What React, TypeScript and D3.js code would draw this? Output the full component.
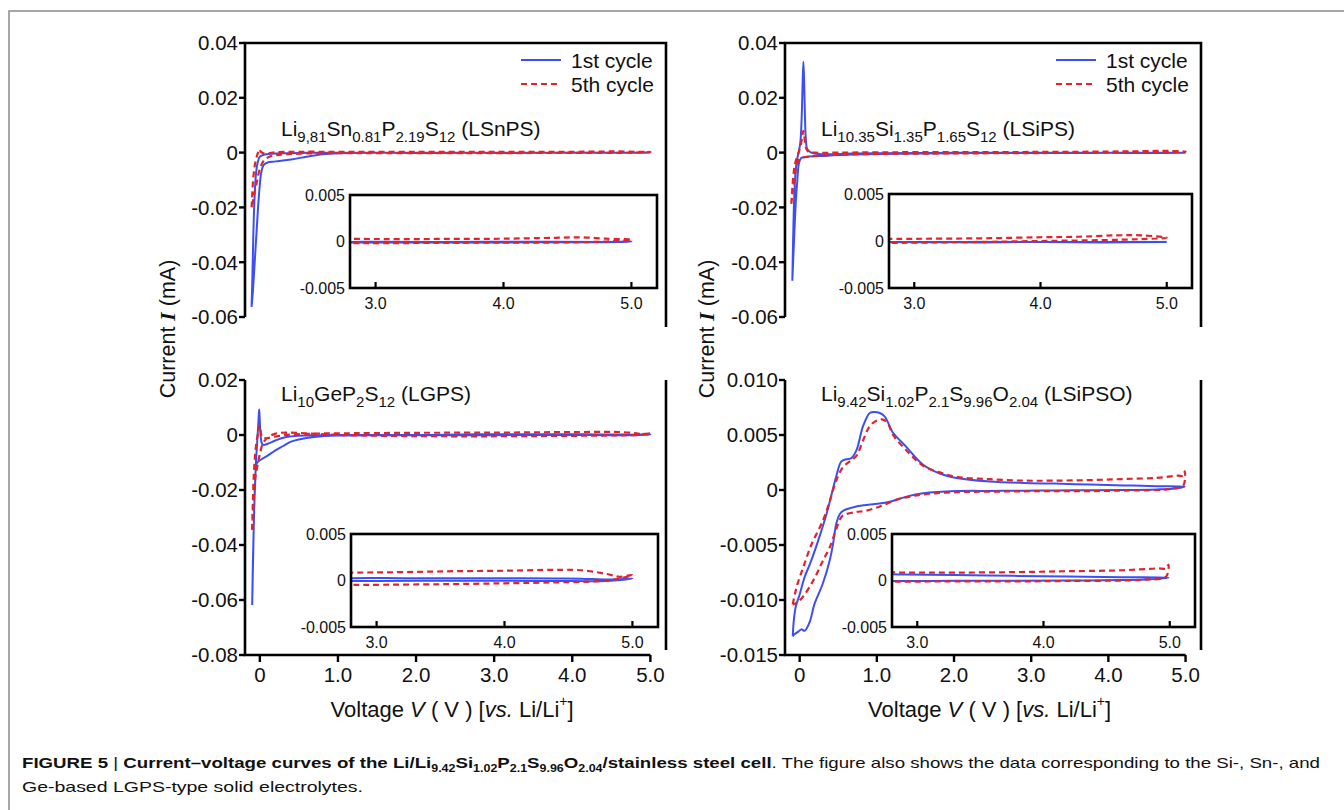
import React from "react";
import * as d3 from "d3";

type Pt = [number, number]; // [voltage V, current mA]
type Seg = { t: string; sub?: boolean; sup?: boolean; it?: boolean; bold?: boolean; serif?: boolean };

// ---------- data (each cycle traced as one loop: anodic sweep up, cathodic sweep back) ----------
const lsnps1st: Pt[] = [
  [-0.106, -0.0563], [-0.095, -0.045], [-0.085, -0.032], [-0.07, -0.018], [-0.05, -0.008], [-0.03, -0.004],
  [0.0, -0.0015], [0.05, -0.0008], [0.15, -0.0004], [0.3, -0.0002], [0.6, -0.0001], [1.0, -0.00005], [2.0, -0.0001],
  [2.8, -0.0001], [3.2, -0.00012], [3.6, -0.0001], [4.0, -0.0001], [4.5, -0.00008], [4.9, -0.00005], [5.0, 0.0],
  [4.8, -0.00005], [4.2, -0.00003], [3.5, -0.00005], [3.0, -0.00002], [2.8, -0.00005], [2.0, -0.0001], [1.0, -0.0002],
  [0.8, -0.0006], [0.6, -0.0015], [0.4, -0.0025], [0.2, -0.0032], [0.1, -0.0036], [0.05, -0.0045], [0.02, -0.007],
  [-0.01, -0.015], [-0.04, -0.028], [-0.07, -0.042], [-0.09, -0.051], [-0.106, -0.0563],
];
const lsnps5th: Pt[] = [
  [-0.105, -0.02], [-0.095, -0.014], [-0.08, -0.008], [-0.06, -0.004], [-0.035, -0.001], [-0.015, 0.0006],
  [-0.005, 0.0012], [0.01, 0.0004], [0.04, -0.0002], [0.1, -0.0003], [0.2, 0.0001], [0.5, 0.0003], [1.0, 0.0003],
  [2.0, 0.0003], [2.8, 0.00028], [3.2, 0.00026], [3.6, 0.00028], [4.0, 0.0003], [4.4, 0.0004], [4.6, 0.00045],
  [4.8, 0.0003], [5.0, 0.0002], [4.8, 0.0], [4.5, -0.0001], [4.0, -0.00012], [3.5, -0.00015], [3.0, -0.00018],
  [2.8, -0.00018], [2.0, -0.0002], [1.0, -0.0002], [0.5, -0.0004], [0.25, -0.0008], [0.12, -0.0015], [0.05, -0.003],
  [0.0, -0.006], [-0.04, -0.011], [-0.07, -0.015], [-0.09, -0.018], [-0.105, -0.02],
];

const lsips1st: Pt[] = [
  [-0.095, -0.0468], [-0.085, -0.032], [-0.07, -0.016], [-0.05, -0.006], [-0.03, -0.002], [-0.01, 0.0005],
  [0.01, 0.004], [0.025, 0.012], [0.038, 0.025], [0.048, 0.0332], [0.058, 0.026], [0.068, 0.014], [0.08, 0.005],
  [0.1, 0.0012], [0.15, 0.0], [0.3, -0.0006], [0.6, -0.0004], [1.0, -0.0002], [2.0, -0.0001], [2.8, -0.0001],
  [3.5, -0.0001], [4.0, -0.0001], [4.5, -0.0001], [5.0, -0.0001], [4.5, -0.00015], [4.0, -0.0001], [3.5, -0.00015],
  [3.0, -0.00012], [2.8, -0.00012], [2.0, -0.0002], [1.0, -0.0005], [0.6, -0.0008], [0.3, -0.0012], [0.1, -0.0015],
  [0.02, -0.002], [-0.01, -0.004], [-0.03, -0.01], [-0.05, -0.018], [-0.07, -0.03], [-0.085, -0.04], [-0.095, -0.0468],
];
const lsips5th: Pt[] = [
  [-0.108, -0.0187], [-0.095, -0.013], [-0.08, -0.008], [-0.06, -0.004], [-0.04, -0.002], [-0.02, -0.0005],
  [0.0, 0.0012], [0.02, 0.0035], [0.035, 0.0062], [0.048, 0.0079], [0.058, 0.0065], [0.07, 0.0035], [0.085, 0.0015],
  [0.11, 0.0004], [0.2, 0.0], [0.5, 0.0], [1.0, 0.0001], [2.0, 0.0002], [2.8, 0.00022], [3.2, 0.00025], [3.6, 0.0003],
  [4.0, 0.0004], [4.3, 0.00045], [4.6, 0.0006], [4.8, 0.0006], [5.0, 0.00035], [4.8, 0.0002], [4.5, 0.0001],
  [4.0, 0.0], [3.5, -0.0001], [3.0, -0.00018], [2.8, -0.0002], [2.0, -0.0003], [1.0, -0.0005], [0.5, -0.0008],
  [0.2, -0.0012], [0.08, -0.0016], [0.02, -0.002], [-0.02, -0.003], [-0.05, -0.006], [-0.08, -0.012],
  [-0.095, -0.0155], [-0.108, -0.0187],
];

const lgps1st: Pt[] = [
  [-0.098, -0.0618], [-0.09, -0.05], [-0.08, -0.036], [-0.065, -0.02], [-0.05, -0.01], [-0.035, -0.003],
  [-0.022, 0.003], [-0.012, 0.008], [-0.008, 0.0093], [-0.002, 0.006], [0.01, 0.0], [0.025, -0.003],
  [0.045, -0.0036], [0.1, -0.0032], [0.2, -0.002], [0.3, -0.001], [0.45, -0.0004], [0.7, -0.0001], [1.0, 0.0],
  [2.0, 0.0], [2.8, 0.00025], [3.2, 0.00025], [3.6, 0.00025], [4.0, 0.00025], [4.4, 0.00022], [4.6, 0.0002],
  [4.8, 0.0001], [5.0, 0.0002], [4.8, -0.00005], [4.4, -0.00005], [4.0, -0.00003], [3.5, -0.00003], [3.0, -0.00005],
  [2.8, -0.00005], [2.0, -0.0001], [1.0, -0.0002], [0.7, -0.0007], [0.5, -0.0016], [0.4, -0.0024], [0.3, -0.004],
  [0.2, -0.0056], [0.1, -0.0075], [0.0, -0.0092], [-0.04, -0.0103], [-0.06, -0.018], [-0.075, -0.03],
  [-0.088, -0.045], [-0.098, -0.0618],
];
const lgps5th: Pt[] = [
  [-0.1, -0.0345], [-0.09, -0.025], [-0.078, -0.015], [-0.06, -0.007], [-0.04, -0.002], [-0.02, 0.001],
  [-0.005, 0.0036], [0.01, 0.0015], [0.03, -0.0008], [0.08, -0.0012], [0.15, -0.0008], [0.25, -0.0003], [0.4, 0.0002],
  [0.7, 0.0005], [1.0, 0.0006], [2.0, 0.0008], [2.8, 0.00085], [3.2, 0.0009], [3.6, 0.001], [4.0, 0.00105],
  [4.4, 0.00115], [4.6, 0.0011], [4.8, 0.0007], [4.9, 0.0004], [5.0, 0.0006], [4.9, 0.0002], [4.7, -0.0001],
  [4.4, -0.0002], [4.0, -0.0003], [3.5, -0.0004], [3.0, -0.00046], [2.8, -0.00048], [2.0, -0.0004], [1.0, 0.0],
  [0.6, 0.0006], [0.35, 0.0009], [0.2, 0.0005], [0.1, -0.001], [0.04, -0.003], [0.0, -0.007], [-0.03, -0.011],
  [-0.06, -0.016], [-0.08, -0.024], [-0.1, -0.0345],
];

const lsipso1st: Pt[] = [
  [-0.09, -0.0133], [-0.075, -0.0118], [-0.05, -0.0106], [0.0, -0.0095], [0.065, -0.0079], [0.14, -0.0066],
  [0.216, -0.0051], [0.3, -0.0033], [0.367, -0.0017], [0.42, -0.0002], [0.476, 0.0013], [0.54, 0.0026], [0.605, 0.0028],
  [0.67, 0.0029], [0.735, 0.0036], [0.821, 0.0058], [0.908, 0.007], [0.97, 0.0071], [1.038, 0.007], [1.1, 0.0067],
  [1.14, 0.0062], [1.2, 0.0053], [1.384, 0.0039], [1.6, 0.0023], [1.816, 0.0015], [2.03, 0.0011], [2.46, 0.00078],
  [2.9, 0.00064], [3.3, 0.00058], [3.76, 0.0005], [4.2, 0.00042], [4.63, 0.00035], [4.99, 0.0003],
  [4.8, 0.0001], [4.63, 0.00005], [4.2, 0.0], [3.76, -0.00002], [3.3, -0.00004], [2.9, -0.00006], [2.46, -0.00008],
  [2.03, -0.0001], [1.6, -0.0003], [1.384, -0.0006], [1.167, -0.00106], [0.951, -0.0013], [0.735, -0.0015],
  [0.562, -0.0019], [0.519, -0.0022], [0.476, -0.003], [0.43, -0.005], [0.389, -0.0064], [0.3, -0.0085],
  [0.19, -0.0104], [0.13, -0.012], [0.065, -0.0128], [0.022, -0.01267], [-0.022, -0.0129], [-0.065, -0.0131],
  [-0.09, -0.0133],
];
const lsipso5th: Pt[] = [
  [-0.09, -0.0104], [-0.06, -0.0094], [-0.022, -0.0084], [0.043, -0.0071], [0.15, -0.005], [0.3, -0.0028],
  [0.39, -0.001], [0.476, 0.0009], [0.562, 0.0021], [0.648, 0.0026], [0.735, 0.0031], [0.821, 0.0045],
  [0.908, 0.0058], [0.994, 0.0063], [1.081, 0.0064], [1.146, 0.006], [1.21, 0.005], [1.384, 0.0036], [1.6, 0.0022],
  [1.816, 0.0016], [2.03, 0.0012], [2.46, 0.00098], [2.9, 0.00085], [3.3, 0.00085], [3.76, 0.0009], [4.2, 0.001],
  [4.63, 0.0011], [4.9, 0.0013], [4.97, 0.0013], [4.99, 0.0017], [4.97, 0.0004], [4.8, 0.0001], [4.63, 0.0],
  [4.2, -0.00005], [3.76, -0.0001], [3.3, -0.0001], [2.9, -0.00012], [2.46, -0.00015], [2.03, -0.0002],
  [1.6, -0.0004], [1.43, -0.0006], [1.25, -0.0009], [1.04, -0.0015], [0.85, -0.0019], [0.735, -0.002],
  [0.562, -0.0023], [0.519, -0.0027], [0.476, -0.0035], [0.39, -0.0052], [0.303, -0.0064], [0.216, -0.0077],
  [0.13, -0.0088], [0.043, -0.0097], [-0.043, -0.0103], [-0.09, -0.0104],
];

// ---------- ticks & labels ----------
const xTickValues = [0, 1, 2, 3, 4, 5];
const xTickLabels = ["0", "1.0", "2.0", "3.0", "4.0", "5.0"];
const yTicksTop = [0.04, 0.02, 0, -0.02, -0.04, -0.06];
const yLabelsTop = ["0.04", "0.02", "0", "-0.02", "-0.04", "-0.06"];
const yTicksLgps = [0.02, 0, -0.02, -0.04, -0.06, -0.08];
const yLabelsLgps = ["0.02", "0", "-0.02", "-0.04", "-0.06", "-0.08"];
const yTicksLsipso = [0.01, 0.005, 0, -0.005, -0.01, -0.015];
const yLabelsLsipso = ["0.010", "0.005", "0", "-0.005", "-0.010", "-0.015"];
const insetXTicks = [3, 4, 5];
const insetXLabels = ["3.0", "4.0", "5.0"];
const insetYTicks = [0.005, 0, -0.005];
const insetYLabels = ["0.005", "0", "-0.005"];
const legendLabels = ["1st cycle", "5th cycle"];

const lsnpsFormula: Seg[] = [
  { t: "Li" }, { t: "9,81", sub: true }, { t: "Sn" }, { t: "0.81", sub: true }, { t: "P" }, { t: "2.19", sub: true },
  { t: "S" }, { t: "12", sub: true }, { t: " (LSnPS)" },
];
const lsipsFormula: Seg[] = [
  { t: "Li" }, { t: "10.35", sub: true }, { t: "Si" }, { t: "1.35", sub: true }, { t: "P" }, { t: "1.65", sub: true },
  { t: "S" }, { t: "12", sub: true }, { t: " (LSiPS)" },
];
const lgpsFormula: Seg[] = [
  { t: "Li" }, { t: "10", sub: true }, { t: "GeP" }, { t: "2", sub: true }, { t: "S" }, { t: "12", sub: true }, { t: " (LGPS)" },
];
const lsipsoFormula: Seg[] = [
  { t: "Li" }, { t: "9.42", sub: true }, { t: "Si" }, { t: "1.02", sub: true }, { t: "P" }, { t: "2.1", sub: true },
  { t: "S" }, { t: "9.96", sub: true }, { t: "O" }, { t: "2.04", sub: true }, { t: " (LSiPSO)" },
];
const xTitle: Seg[] = [
  { t: "Voltage " }, { t: "V", it: true }, { t: " ( V ) [" }, { t: "vs.", it: true }, { t: " Li/Li" }, { t: "+", sup: true }, { t: "]" },
];
const yTitle: Seg[] = [{ t: "Current " }, { t: "I", it: true, bold: true, serif: true }, { t: " (mA)" }];
const captionLine1: Seg[] = [
  { t: "FIGURE 5", bold: true }, { t: " | " }, { t: "Current–voltage curves of the Li/Li", bold: true },
  { t: "9.42", sub: true, bold: true }, { t: "Si", bold: true }, { t: "1.02", sub: true, bold: true }, { t: "P", bold: true },
  { t: "2.1", sub: true, bold: true }, { t: "S", bold: true }, { t: "9.96", sub: true, bold: true }, { t: "O", bold: true },
  { t: "2.04", sub: true, bold: true }, { t: "/stainless steel cell", bold: true },
  { t: ". The figure also shows the data corresponding to the Si-, Sn-, and" },
];
const captionLine2: Seg[] = [{ t: "Ge-based LGPS-type solid electrolytes." }];

// ---------- styling ----------
const FONT = "'Liberation Sans', Arial, Helvetica, sans-serif";
const BLUE = "#3d4ff2";
const RED = "#e2232b";

function Rich(props: {
  x: number; y: number; segs: Seg[]; size: number; subSize: number; anchor?: string;
  transform?: string; family?: string; textLength?: number;
}) {
  const { x, y, segs, size, subSize, anchor = "start", transform, family = FONT, textLength } = props;
  let shift = 0;
  return (
    <text x={x} y={y} fontSize={size} textAnchor={anchor} transform={transform} fontFamily={family}
      fill="#111" textLength={textLength} lengthAdjust={textLength ? "spacingAndGlyphs" : undefined}>
      {segs.map((s, i) => {
        const target = s.sub ? size * 0.28 : s.sup ? -size * 0.5 : 0;
        const dy = target - shift;
        shift = target;
        return (
          <tspan key={i} dy={dy} fontSize={s.sub || s.sup ? subSize : undefined}
            fontStyle={s.it ? "italic" : undefined} fontWeight={s.bold ? "bold" : undefined}
            fontFamily={s.serif ? "'Liberation Serif', 'Times New Roman', serif" : undefined}>
            {s.t}
          </tspan>
        );
      })}
    </text>
  );
}

type PanelProps = {
  id: string;
  left: number; right: number; top: number; bottom: number;
  row: "top" | "bottom";
  yDomain: [number, number];
  yTicks: number[]; yLabels: string[];
  first: Pt[]; fifth: Pt[];
  formula: Seg[];
  inset: { l: number; t: number; r: number; b: number };
  legend: boolean;
};

function Panel(p: PanelProps) {
  const x = d3.scaleLinear().domain([-0.19, 5.2]).range([p.left, p.right]);
  const y = d3.scaleLinear().domain(p.yDomain).range([p.bottom, p.top]);
  const ix = d3.scaleLinear().domain([2.8, 5.2]).range([p.inset.l, p.inset.r]);
  const iy = d3.scaleLinear().domain([-0.005, 0.005]).range([p.inset.b, p.inset.t]);
  const mainLine = d3.line<Pt>().x((d) => x(d[0])).y((d) => y(d[1])).curve(d3.curveCatmullRom.alpha(0.5));
  const insetLine = d3.line<Pt>().x((d) => ix(d[0])).y((d) => iy(d[1])).curve(d3.curveCatmullRom.alpha(0.5));

  const frame =
    p.row === "top"
      ? `M${p.left},${p.bottom}V${p.top}H${p.right}V${p.bottom + 10}`
      : `M${p.left},${p.top}V${p.bottom}H${x(5)}M${p.right},${p.top}V${p.bottom - 5}`;

  const legendX = p.right - 145;

  return (
    <g>
      <defs>
        <clipPath id={`main-${p.id}`}>
          <rect x={p.left} y={p.top - 20} width={p.right - p.left} height={p.bottom - p.top + 20} />
        </clipPath>
        <clipPath id={`inset-${p.id}`}>
          <rect x={p.inset.l} y={p.inset.t} width={p.inset.r - p.inset.l} height={p.inset.b - p.inset.t} />
        </clipPath>
      </defs>

      {/* main curves */}
      <g clipPath={`url(#main-${p.id})`} fill="none">
        <path d={mainLine(p.first) || ""} stroke={BLUE} strokeWidth={2} />
        <path d={mainLine(p.fifth) || ""} stroke={RED} strokeWidth={2.2} strokeDasharray="6,4" />
      </g>

      {/* axes */}
      <path d={frame} fill="none" stroke="#000" strokeWidth={2.6} />
      {p.yTicks.map((t, i) => (
        <g key={i}>
          <line x1={p.left - 6} x2={p.left} y1={y(t)} y2={y(t)} stroke="#000" strokeWidth={2.4} />
          <text x={p.left - 7} y={y(t)} dy="0.36em" textAnchor="end" fontSize={20.5} fontFamily={FONT} fill="#111">
            {p.yLabels[i]}
          </text>
        </g>
      ))}
      {p.row === "bottom" &&
        xTickValues.map((t, i) => (
          <g key={i}>
            <line x1={x(t)} x2={x(t)} y1={p.bottom} y2={p.bottom + 7} stroke="#000" strokeWidth={2.4} />
            <text x={x(t)} y={p.bottom + 27} textAnchor="middle" fontSize={20.5} fontFamily={FONT} fill="#111">
              {xTickLabels[i]}
            </text>
          </g>
        ))}
      {p.row === "bottom" && (
        <Rich x={x(2.5) - 3} y={p.bottom + 62} segs={xTitle} size={22} subSize={14} anchor="middle" />
      )}

      {/* compound label */}
      <Rich x={p.left + 36} y={p.row === "top" ? 136 : 401} segs={p.formula} size={21} subSize={15} />

      {/* legend */}
      {p.legend && (
        <g>
          <line x1={legendX} x2={legendX + 40} y1={60} y2={60} stroke={BLUE} strokeWidth={2} />
          <text x={legendX + 50} y={60} dy="0.36em" fontSize={21} fontFamily={FONT} fill="#111">{legendLabels[0]}</text>
          <line x1={legendX} x2={legendX + 40} y1={84} y2={84} stroke={RED} strokeWidth={2.2} strokeDasharray="6,4" />
          <text x={legendX + 50} y={84} dy="0.36em" fontSize={21} fontFamily={FONT} fill="#111">{legendLabels[1]}</text>
        </g>
      )}

      {/* inset */}
      <rect x={p.inset.l} y={p.inset.t} width={p.inset.r - p.inset.l} height={p.inset.b - p.inset.t} fill="#fff" />
      <g clipPath={`url(#inset-${p.id})`} fill="none">
        <path d={insetLine(p.first) || ""} stroke={BLUE} strokeWidth={2} />
        <path d={insetLine(p.fifth) || ""} stroke={RED} strokeWidth={2.2} strokeDasharray="6,4" />
      </g>
      <rect x={p.inset.l} y={p.inset.t} width={p.inset.r - p.inset.l} height={p.inset.b - p.inset.t}
        fill="none" stroke="#000" strokeWidth={2.6} />
      {insetXTicks.map((t, i) => (
        <g key={i}>
          <line x1={ix(t)} x2={ix(t)} y1={p.inset.b} y2={p.inset.b - 6} stroke="#000" strokeWidth={2.2} />
          <text x={ix(t)} y={p.inset.b + 21} textAnchor="middle" fontSize={16} fontFamily={FONT} fill="#111">
            {insetXLabels[i]}
          </text>
        </g>
      ))}
      {insetYTicks.map((t, i) => (
        <text key={i} x={p.inset.l - 5} y={iy(t)} dy="0.36em" textAnchor="end" fontSize={16} fontFamily={FONT} fill="#111">
          {insetYLabels[i]}
        </text>
      ))}
    </g>
  );
}

export default function App() {
  return (
    <svg width={1344} height={810} style={{ position: "absolute", left: 0, top: 0, background: "#fff" }}>
      <rect x={0} y={0} width={1344} height={810} fill="#fff" />
      <path d="M1344,11H9V810" fill="none" stroke="#8a8a8a" strokeWidth={1.5} />

      <Panel id="a" left={245} right={666} top={43} bottom={317} row="top" yDomain={[-0.06, 0.04]}
        yTicks={yTicksTop} yLabels={yLabelsTop} first={lsnps1st} fifth={lsnps5th} formula={lsnpsFormula}
        inset={{ l: 350, t: 195, r: 657, b: 288 }} legend />
      <Panel id="b" left={785} right={1201} top={43} bottom={317} row="top" yDomain={[-0.06, 0.04]}
        yTicks={yTicksTop} yLabels={yLabelsTop} first={lsips1st} fifth={lsips5th} formula={lsipsFormula}
        inset={{ l: 889, t: 194, r: 1192, b: 288 }} legend />
      <Panel id="c" left={245} right={666} top={380} bottom={655} row="bottom" yDomain={[-0.08, 0.02]}
        yTicks={yTicksLgps} yLabels={yLabelsLgps} first={lgps1st} fifth={lgps5th} formula={lgpsFormula}
        inset={{ l: 351, t: 534, r: 658, b: 627 }} legend={false} />
      <Panel id="d" left={785} right={1201} top={380} bottom={655} row="bottom" yDomain={[-0.015, 0.01]}
        yTicks={yTicksLsipso} yLabels={yLabelsLsipso} first={lsipso1st} fifth={lsipso5th} formula={lsipsoFormula}
        inset={{ l: 892, t: 534, r: 1195, b: 627 }} legend={false} />

      {/* shared y-axis titles */}
      <Rich x={0} y={0} segs={yTitle} size={21.5} subSize={14} anchor="middle" transform="translate(175,329) rotate(-90)" />
      <Rich x={0} y={0} segs={yTitle} size={21.5} subSize={14} anchor="middle" transform="translate(714,329) rotate(-90)" />

      {/* caption */}
      <Rich x={22} y={768} segs={captionLine1} size={15} subSize={10}
        family="'Liberation Sans Narrow', 'Liberation Sans', Arial, sans-serif" textLength={1298} />
      <Rich x={22} y={792} segs={captionLine2} size={15} subSize={10}
        family="'Liberation Sans Narrow', 'Liberation Sans', Arial, sans-serif" textLength={341} />
    </svg>
  );
}
